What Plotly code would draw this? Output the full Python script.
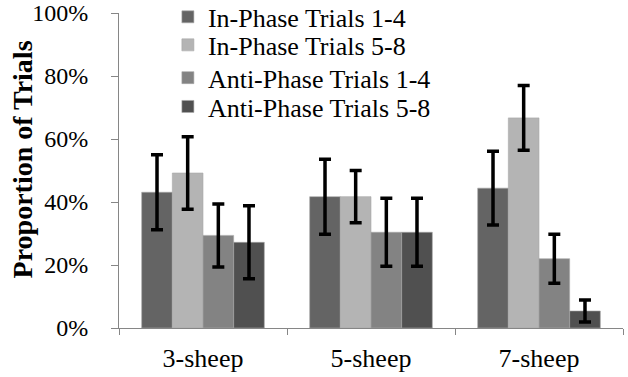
import plotly.graph_objects as go

categories = ["3-sheep", "5-sheep", "7-sheep"]
series_names = ["In-Phase Trials 1-4", "In-Phase Trials 5-8",
                "Anti-Phase Trials 1-4", "Anti-Phase Trials 5-8"]
ip14 = [43.1, 41.7, 44.4]
ip14_err = [11.9, 11.9, 11.7]
ip58 = [49.2, 41.7, 66.7]
ip58_err = [11.5, 8.3, 10.3]
ap14 = [29.4, 30.4, 22.0]
ap14_err = [10.0, 10.8, 7.8]
ap58 = [27.2, 30.4, 5.4]
ap58_err = [11.6, 10.8, 3.5]
colors = ["#646464", "#b4b4b4", "#838383", "#505050"]
y_title = "Proportion of Trials"

values = [ip14, ip58, ap14, ap58]
errors = [ip14_err, ip58_err, ap14_err, ap58_err]

FONT = "Times New Roman, Liberation Serif, serif"
legend_ids = ["legend", "legend2", "legend3", "legend4"]
legend_rows_y = [0.9875, 0.8985, 0.7945, 0.703]

fig = go.Figure()
for name, vals, errs, col, lid in zip(series_names, values, errors, colors, legend_ids):
    fig.add_trace(go.Bar(
        name=name, x=categories, y=[v / 100 for v in vals], legend=lid,
        marker=dict(color=col, line=dict(color="#a8a8a8", width=0.6)),
        error_y=dict(type="data", array=[e / 100 for e in errs], visible=True,
                     color="black", thickness=3.5, width=6),
    ))

legend_common = dict(x=0.097, xanchor="left", yanchor="middle",
                     bgcolor="rgba(0,0,0,0)",
                     font=dict(family=FONT, size=26, color="black"))
legends = {}
for lid, ly in zip(legend_ids, legend_rows_y):
    legends[lid] = dict(y=ly, **legend_common)

fig.add_annotation(
    text="<b>" + y_title + "</b>", textangle=-90,
    xref="paper", yref="paper", x=-0.1925, y=0.535,
    xanchor="center", yanchor="middle", showarrow=False,
    font=dict(family=FONT, size=28, color="black"),
)

fig.update_layout(
    width=628, height=377,
    margin=dict(l=119, r=5, t=13, b=49, autoexpand=False),
    paper_bgcolor="white", plot_bgcolor="white",
    barmode="group", bargap=0.27, bargroupgap=0,
    font=dict(family=FONT, size=24, color="black"),
    showlegend=True,
    xaxis=dict(showline=True, linecolor="#868686", linewidth=1,
               ticks="outside", tickson="boundaries", ticklen=6, tickcolor="#868686",
               showgrid=False, ticklabelstandoff=7, automargin=False,
               tickfont=dict(family=FONT, size=26, color="black")),
    yaxis=dict(range=[0, 1], tickvals=[0, 0.2, 0.4, 0.6, 0.8, 1.0], tickformat=".0%",
               showline=True, linecolor="#868686", linewidth=1,
               ticks="outside", ticklen=7, tickcolor="#868686",
               showgrid=False, zeroline=False, ticklabelstandoff=18, automargin=False,
               tickfont=dict(family=FONT, size=24, color="black")),
    **legends,
)

fig.write_html("out.html")
